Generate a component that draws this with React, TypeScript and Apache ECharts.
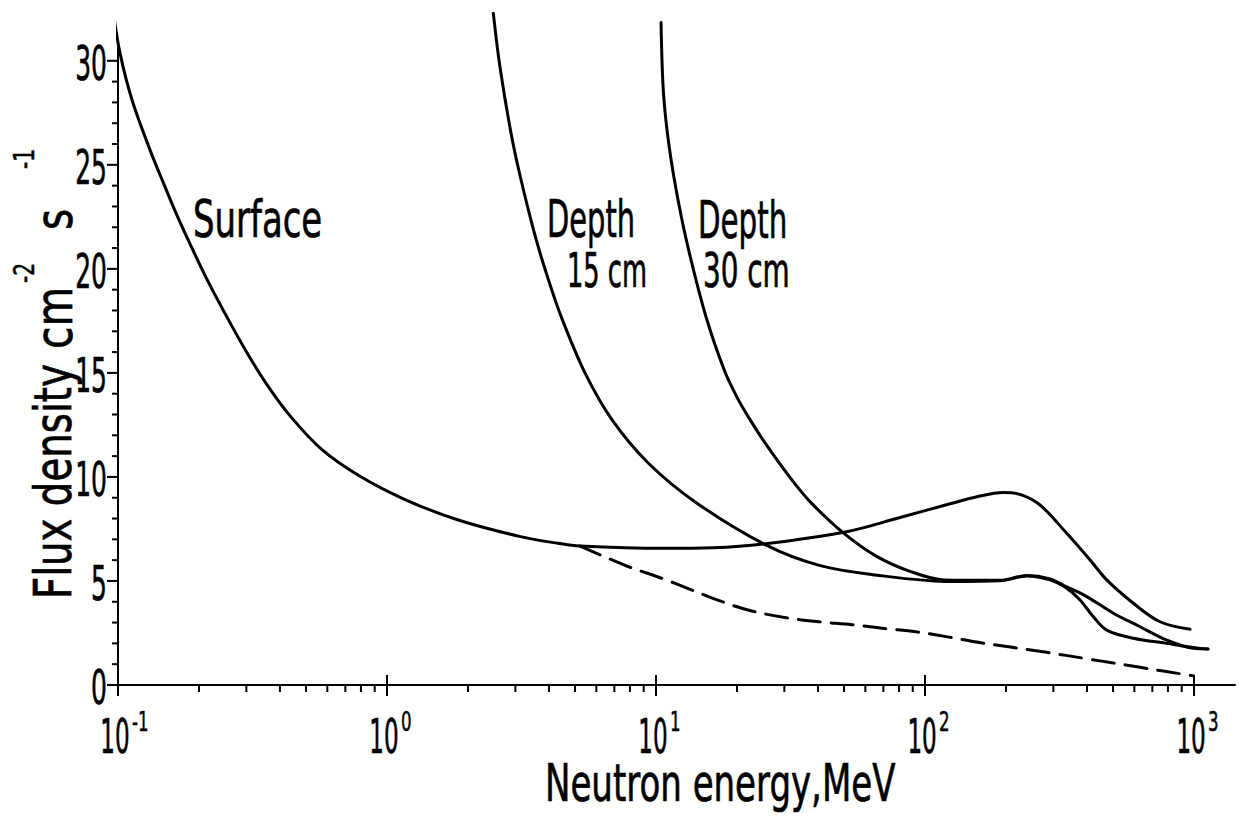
import React, { useEffect, useRef } from "react";
import * as echarts from "echarts";

// ---------- data ----------
const surfaceX = [0.0958, 0.1017, 0.1127, 0.1315, 0.1476, 0.1665, 0.1897, 0.218, 0.2537, 0.2973, 0.3552, 0.4385, 0.5746, 0.7964, 1.178, 1.84, 3.135, 4.318, 5.219, 10.64, 16.29, 25.06, 51.16, 80.74, 123.9, 157.4, 195, 225.5, 267.6, 336.3, 410.7, 473.6, 594.8, 747.3, 966.3];
const surfaceY = [32.45, 30.38, 28.13, 25.72, 24.12, 22.51, 20.91, 19.3, 17.7, 16.11, 14.5, 12.9, 11.3, 10.02, 8.89, 7.93, 7.13, 6.81, 6.68, 6.57, 6.6, 6.78, 7.37, 8.05, 8.71, 9.06, 9.25, 9.16, 8.65, 7.29, 6.01, 5.05, 3.93, 3.04, 2.68];

const dashedX = [5.219, 7.782, 10.5, 13.38, 17.29, 22.49, 29.92, 40.35, 53.39, 71.02, 92.36, 122.8, 161.1, 283.4, 404.8, 494.4, 630, 887.2, 994];
const dashedY = [6.68, 5.72, 5.13, 4.6, 4.04, 3.57, 3.25, 3.04, 2.9, 2.71, 2.56, 2.3, 2.03, 1.57, 1.25, 1.07, 0.85, 0.54, 0.44];

const depth15X = [2.484, 2.628, 2.89, 3.127, 3.529, 3.906, 4.439, 5.445, 6.868, 9.371, 14.19, 25.7, 40.16, 65.25, 125.7, 190, 238.8, 291.5, 336.3, 376.9, 422.4, 473.6, 594.8, 791.5, 1053, 1127];
const depth15Y = [32.29, 29.73, 26.53, 24.45, 21.73, 19.81, 17.71, 15.0, 12.74, 10.66, 8.74, 6.72, 5.76, 5.29, 4.97, 5.01, 5.24, 5.05, 4.65, 4.09, 3.28, 2.64, 2.25, 2.0, 1.76, 1.73];

const depth30X = [10.44, 10.66, 11.19, 12.07, 13.22, 15.33, 17.93, 19.97, 22.15, 25.73, 31.98, 37.82, 49.82, 66.32, 88.49, 117.7, 190, 238.8, 291.5, 336.3, 399.1, 501.2, 630, 791.5, 994, 1127];
const depth30Y = [31.84, 28.45, 25.88, 23.32, 20.91, 17.71, 15.14, 13.85, 12.84, 11.54, 9.86, 8.74, 7.3, 6.17, 5.45, 5.05, 5.03, 5.26, 5.1, 4.72, 4.25, 3.45, 2.8, 2.16, 1.76, 1.73];

const xMajorTicks = [0.1, 1, 10, 100, 1000];
const xTickExponents = ["-1", "0", "1", "2", "3"];
const xMinorTicks = [
  0.2, 0.3, 0.4, 0.5, 0.6, 0.7, 0.8, 0.9,
  2, 3, 4, 5, 6, 7, 8, 9,
  20, 30, 40, 50, 60, 70, 80, 90,
  200, 300, 400, 500, 600, 700, 800, 900,
];
const yMajorTicks = [0, 5, 10, 15, 20, 25, 30];
const yMinorTicks = [1, 2, 3, 4, 6, 7, 8, 9, 11, 12, 13, 14, 16, 17, 18, 19, 21, 22, 23, 24, 26, 27, 28, 29];

const X_MIN = 0.1;
const X_MAX = 1420;
const Y_MIN = 0;
const Y_MAX = 31;

const FONT = "'DejaVu Sans', 'Liberation Sans', sans-serif";
const INK = "#000";

const zip = (xs: number[], ys: number[]) => xs.map((x, i) => [x, ys[i]]);

function txt(text: string, x: number, y: number, size: number, sx: number, align = "left", bold = 0.7) {
  return {
    type: "text",
    x,
    y,
    scaleX: sx,
    style: {
      text,
      fill: INK,
      stroke: INK,
      lineWidth: bold,
      fontSize: size,
      fontFamily: FONT,
      align,
      textAlign: align,
      verticalAlign: "middle",
      textVerticalAlign: "middle",
    },
  };
}

export default function App() {
  const ref = useRef<HTMLDivElement>(null);

  useEffect(() => {
    if (!ref.current) return;
    const chart = echarts.init(ref.current, undefined, { renderer: "svg" });

    const curve = (name: string, data: number[][], dashed = false) => ({
      name,
      type: "line",
      data,
      showSymbol: false,
      symbol: "none",
      smooth: 0.35,
      clip: false,
      silent: true,
      lineStyle: { color: INK, width: 3, type: dashed ? [22, 11] : "solid", cap: "round", join: "round" },
      z: 3,
    });

    const option: any = {
      animation: false,
      backgroundColor: "#fff",
      grid: { left: 118, right: 5, top: 40, bottom: 133, containLabel: false },
      xAxis: {
        type: "log",
        logBase: 10,
        min: X_MIN,
        max: X_MAX,
        axisLine: { show: true, lineStyle: { color: INK, width: 2 } },
        axisTick: { show: false },
        axisLabel: { show: false },
        splitLine: { show: false },
        minorTick: { show: false },
      },
      yAxis: {
        type: "value",
        min: Y_MIN,
        max: Y_MAX,
        axisLine: { show: true, onZero: false, lineStyle: { color: INK, width: 2 } },
        axisTick: { show: false },
        axisLabel: { show: false },
        splitLine: { show: false },
      },
      series: [
        curve("Surface", zip(surfaceX, surfaceY)),
        curve("Surface (dashed)", zip(dashedX, dashedY), true),
        curve("Depth 15 cm", zip(depth15X, depth15Y)),
        curve("Depth 30 cm", zip(depth30X, depth30Y)),
        {
          name: "x major ticks",
          type: "custom",
          silent: true,
          clip: false,
          data: xMajorTicks.map((v) => [v, 0]),
          renderItem: (_p: any, api: any) => {
            const pt = api.coord([api.value(0), 0]);
            return {
              type: "line",
              shape: { x1: pt[0], y1: pt[1] - 10, x2: pt[0], y2: pt[1] + 11 },
              style: { stroke: INK, lineWidth: 2 },
            };
          },
        },
        {
          name: "x minor ticks",
          type: "custom",
          silent: true,
          clip: false,
          data: xMinorTicks.map((v) => [v, 0]),
          renderItem: (_p: any, api: any) => {
            const pt = api.coord([api.value(0), 0]);
            return {
              type: "line",
              shape: { x1: pt[0], y1: pt[1], x2: pt[0], y2: pt[1] + 7 },
              style: { stroke: INK, lineWidth: 2 },
            };
          },
        },
        {
          name: "y major ticks",
          type: "custom",
          silent: true,
          clip: false,
          data: yMajorTicks.map((v) => [X_MIN, v]),
          renderItem: (_p: any, api: any) => {
            const pt = api.coord([X_MIN, api.value(1)]);
            return {
              type: "line",
              shape: { x1: pt[0] - 11, y1: pt[1], x2: pt[0], y2: pt[1] },
              style: { stroke: INK, lineWidth: 2 },
            };
          },
        },
        {
          name: "y minor ticks",
          type: "custom",
          silent: true,
          clip: false,
          data: yMinorTicks.map((v) => [X_MIN, v]),
          renderItem: (_p: any, api: any) => {
            const pt = api.coord([X_MIN, api.value(1)]);
            return {
              type: "line",
              shape: { x1: pt[0] - 6, y1: pt[1], x2: pt[0], y2: pt[1] },
              style: { stroke: INK, lineWidth: 2 },
            };
          },
        },
        {
          name: "y tick labels",
          type: "custom",
          silent: true,
          clip: false,
          data: yMajorTicks.map((v) => [X_MIN, v]),
          renderItem: (_p: any, api: any) => {
            const v = api.value(1);
            const pt = api.coord([X_MIN, v]);
            return txt(String(v), pt[0] - 11, pt[1] + 2, 48, 0.52, "right");
          },
        },
        {
          name: "x tick labels",
          type: "custom",
          silent: true,
          clip: false,
          data: xMajorTicks.map((v, i) => [v, 0, i]),
          renderItem: (_p: any, api: any) => {
            const i = api.value(2);
            const pt = api.coord([api.value(0), 0]);
            return {
              type: "group",
              children: [
                txt("10", pt[0] - 3, pt[1] + 51, 48, 0.48, "center"),
                txt(xTickExponents[i], pt[0] + 14, pt[1] + 37, 26, 0.64, "left", 0.5),
              ],
            };
          },
        },
      ],
      graphic: [
        txt("Surface", 193, 219, 51, 0.665),
        txt("Depth", 547, 220, 51, 0.567),
        txt("15 cm", 567, 270, 48, 0.535),
        txt("Depth", 698, 220, 51, 0.575),
        txt("30 cm", 703, 270, 48, 0.58),
        txt("Neutron energy,MeV", 545, 783, 51, 0.667),
        {
          type: "group",
          x: 73,
          y: 599,
          rotation: Math.PI / 2,
          children: [
            txt("Flux density", 0, -19, 51, 0.76),
            txt("cm", 250, -19, 51, 0.8),
            txt("-2", 316, -49, 29, 0.7, "left", 0.5),
            txt("s", 369, -19, 51, 0.8),
            txt("-1", 430, -49, 29, 0.7, "left", 0.5),
          ],
        },
      ],
    };

    chart.setOption(option);
    return () => chart.dispose();
  }, []);

  return (
    <div
      ref={ref}
      style={{ position: "fixed", left: 0, top: 0, width: 1240, height: 818, background: "#fff" }}
    />
  );
}
